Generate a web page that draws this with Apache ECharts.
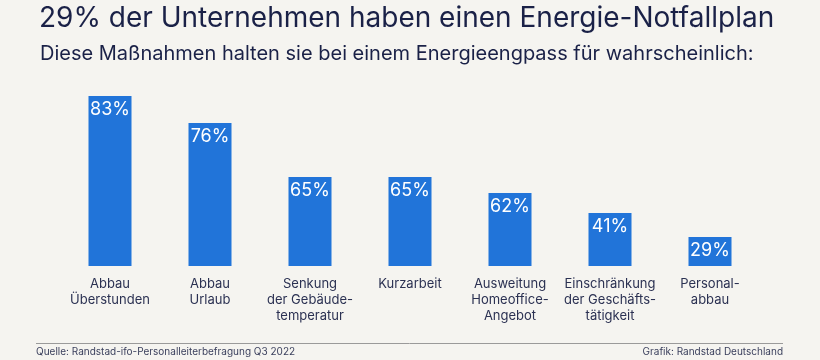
<!DOCTYPE html>
<html><head><meta charset="utf-8">
<script src="https://cdn.jsdelivr.net/npm/echarts@6/dist/echarts.min.js"></script>
<style>html,body{margin:0;padding:0;background:#f5f4f0}#c{width:820px;height:360px}</style>
</head><body><div id="c"></div>
<script>
const categories = ['Abbau\nÜberstunden','Abbau\nUrlaub','Senkung\nder Gebäude-\ntemperatur','Kurzarbeit','Ausweitung\nHomeoffice-\nAngebot','Einschränkung\nder Geschäfts-\ntätigkeit','Personal-\nabbau'];
// percentages printed on the bars
const shares = [83, 76, 65, 65, 62, 41, 29];
// bar lengths as drawn in the original (not to scale there), read in percent units relative to the 83% bar
const barLengths = [83, 69.8, 43.5, 43.5, 35.6, 25.9, 14.2];
const titleText = '29% der Unternehmen haben einen Energie-Notfallplan';
const subtitleText = 'Diese Maßnahmen halten sie bei einem Energieengpass für wahrscheinlich:';
const sourceText = 'Quelle: Randstad-ifo-Personalleiterbefragung Q3 2022';
const creditText = 'Grafik: Randstad Deutschland';

const FONT = 'Inter, Roboto, sans-serif';
const chart = echarts.init(document.getElementById('c'));
chart.setOption({
  backgroundColor: '#f5f4f0',
  animation: false,
  textStyle: {fontFamily: FONT},
  title: [
    {text: titleText, left: 34, top: 0, textStyle: {fontFamily: FONT, fontSize: 28, fontWeight: 'normal', color: '#1a2147'}},
    {text: subtitleText, left: 35, top: 39, textStyle: {fontFamily: FONT, fontSize: 20, fontWeight: 'normal', color: '#1a2147'}}
  ],
  grid: {left: 60, right: 60, top: 61.2, bottom: 94, containLabel: false},
  xAxis: {
    type: 'category', data: categories,
    axisLine: {show: false}, axisTick: {show: false},
    axisLabel: {interval: 0, margin: 10, fontSize: 13, lineHeight: 16, color: '#2b3152', fontFamily: FONT, verticalAlign: 'top'}
  },
  yAxis: {type: 'value', min: 0, max: 100, show: false, splitLine: {show: false}},
  series: [{
    type: 'bar', barWidth: 43,
    data: barLengths.map((v, i) => ({value: v, label: {formatter: shares[i] + '%'}})),
    itemStyle: {color: '#2174d9'},
    label: {show: true, position: 'insideTop', distance: 5, color: '#ffffff', fontSize: 18, fontFamily: FONT}
  }],
  graphic: [
    {type: 'line', shape: {x1: 36, y1: 343.5, x2: 783, y2: 343.5}, style: {stroke: '#9a9a9a', lineWidth: 1}},
    {type: 'text', left: 36, top: 347, style: {text: sourceText, fontSize: 10, fill: '#3a3f5c', fontFamily: FONT}},
    {type: 'text', right: 37, top: 347, style: {text: creditText, fontSize: 10, fill: '#3a3f5c', fontFamily: FONT}}
  ]
});
</script></body></html>
